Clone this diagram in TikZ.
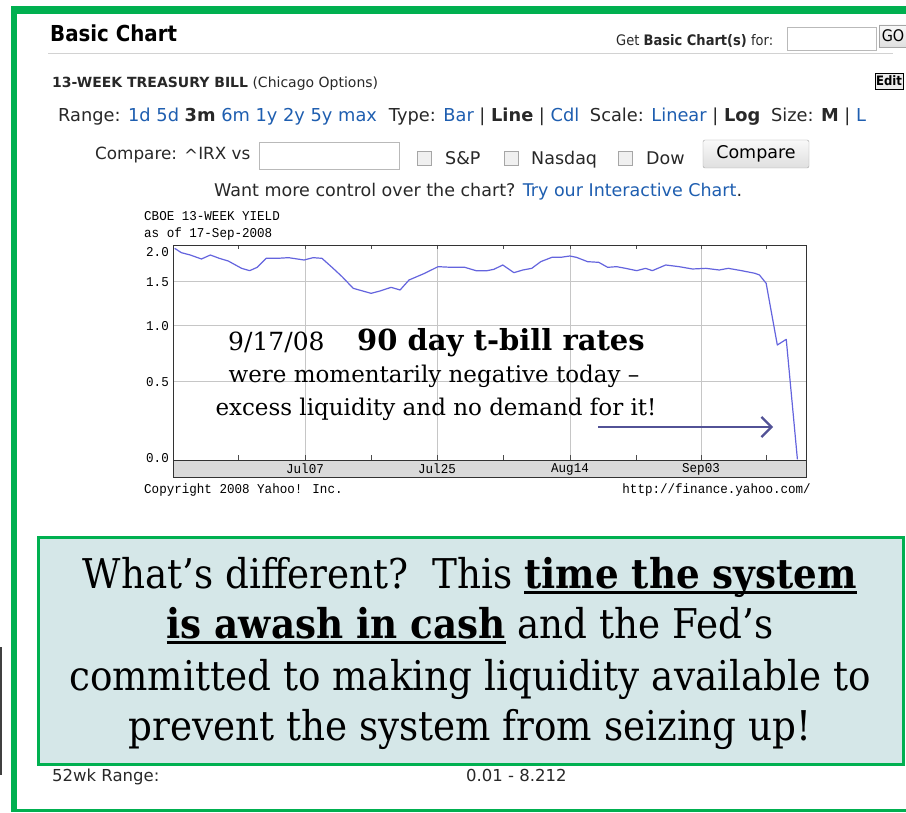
\documentclass[tikz,border=0pt]{standalone}
\usepackage{fontspec}
\setmainfont{DejaVu Serif}
\newfontfamily\uifnt[FakeStretch=0.9]{DejaVu Sans}
\newfontfamily\uifntw{DejaVu Sans}
\newfontfamily\monofnt[FakeStretch=0.93]{Liberation Mono}
\newfontfamily\annfnt{DejaVu Serif}
\newfontfamily\boxfnt[FakeStretch=0.91]{DejaVu Serif}
\usetikzlibrary{arrows.meta}
\definecolor{frgreen}{RGB}{0,176,80}
\definecolor{boxfill}{RGB}{213,231,232}
\definecolor{linkblue}{RGB}{30,94,176}
\definecolor{dataline}{RGB}{100,100,222}
\definecolor{arrowcol}{RGB}{82,82,150}
\definecolor{uitext}{RGB}{40,40,40}
\definecolor{bandgray}{RGB}{218,218,218}
\newcommand\lk[1]{\textcolor{linkblue}{#1}}
\newcommand\thickul[1]{\setbox0=\hbox{#1}\rlap{\rule[-6pt]{\wd0}{3pt}}\box0}
\tikzset{
  uitxt/.style={anchor=base west, inner sep=0pt, text=uitext},
  ui/.style={font=\uifntw\fontsize{17.5}{20}\selectfont},
  monotxt/.style={inner sep=0pt, text=black, font=\monofnt\fontsize{13.5}{15}\selectfont},
  inputbox/.style={draw=gray!55, fill=white, inner sep=0pt},
  btnbox/.style={draw=gray!70, rounded corners=2pt, top color=gray!5, bottom color=gray!25, inner sep=0pt, text=black},
  chk/.style={draw=gray!70, fill=gray!12, minimum width=14pt, minimum height=14pt, inner sep=0pt},
  grid/.style={draw=gray!45, line width=0.8pt},
  annot/.style={anchor=base, inner sep=0pt, text=black},
  boxline/.style={anchor=base, inner sep=0pt, text=black, font=\boxfnt\fontsize{41}{46}\selectfont},
}
\begin{document}
\begin{tikzpicture}[x=1pt,y=-1pt]
\useasboundingbox (0,0) rectangle (906,813);
\fill[white] (0,0) rectangle (906,813);
% outer frame
\draw[frgreen, line width=8pt] (906,10) -- (11,10);
\draw[frgreen, line width=6pt] (14,6) -- (14,812);
\draw[frgreen, line width=3pt] (14,810.5) -- (906,810.5);
\draw[black!75, line width=1.5pt] (1,647) -- (1,775);
% header
\node[uitxt, font=\uifnt\bfseries\fontsize{22}{24}\selectfont, text=black] (title) at (50,42) {Basic Chart};
\draw[gray!35] (48,53) -- (893,53);
\node[uitxt, font=\uifnt\fontsize{14.5}{16}\selectfont] (getlbl) at (616,46) {Get \textbf{Basic Chart(s)} for:};
\node[inputbox, minimum width=89pt, minimum height=23pt] (getbox) at (831.5,38.5) {};
\node[btnbox, rounded corners=0pt, minimum width=28pt, minimum height=22pt, font=\uifnt\fontsize{16}{18}\selectfont] (go) at (893,36) {GO};
\node[uitxt, font=\uifntw\fontsize{14}{16}\selectfont] (sym) at (52,88) {\textbf{13-WEEK TREASURY BILL} (Chicago Options)};
\node[draw=black, fill=gray!15, minimum width=28pt, minimum height=16pt, inner sep=0pt, font=\uifnt\bfseries\fontsize{13}{14}\selectfont] (edit) at (889,81) {Edit};
\node[uitxt, font=\uifntw\fontsize{17.8}{20}\selectfont] (range) at (58,122) {Range: \lk{1d} \lk{5d} \textbf{3m} \lk{6m} \lk{1y} \lk{2y} \lk{5y} \lk{max}\hspace{12pt}Type: \lk{Bar} | \textbf{Line} | \lk{Cdl}\hspace{5pt} Scale: \lk{Linear} | \textbf{Log}\hspace{5pt} Size: \textbf{M} | \lk{L}};
% compare row
\node[uitxt, font=\uifntw\fontsize{16.8}{20}\selectfont] (cmplbl) at (95,160) {Compare: \raisebox{-2pt}{\^{}}IRX vs};
\node[inputbox, minimum width=140pt, minimum height=27pt] (cmpbox) at (329,156) {};
\node[chk] (c1) at (424.5,158.5) {};
\node[uitxt, ui] (sp) at (445,165) {S\&P};
\node[chk] (c2) at (511,158.5) {};
\node[uitxt, ui] (nas) at (531,165) {Nasdaq};
\node[chk] (c3) at (625,158.5) {};
\node[uitxt, ui] (dow) at (646,165) {Dow};
\node[btnbox, minimum width=106pt, minimum height=28pt, font=\uifntw\fontsize{17.5}{20}\selectfont] (cmpbtn) at (756,154) {Compare};
\node[uitxt, ui] (want) at (214,197) {Want more control over the chart? \lk{Try our Interactive Chart}.};
% chart titles
\node[monotxt, anchor=base west] (ct1) at (144,221) {CBOE 13-WEEK YIELD};
\node[monotxt, anchor=base west] (ct2) at (144,238) {as of 17-Sep-2008};
% chart plot
\fill[bandgray] (173,460) rectangle (806,477);
\foreach \yy in {281,325,381} \draw[grid] (173,\yy) -- (806,\yy);
\foreach \xx in {305,437,570,701} \draw[grid] (\xx,245) -- (\xx,460);
\foreach \xx in {238.5,305,371,437,503,570,636,701,766} {
  \draw[black!70] (\xx,245) -- (\xx,249);
  \draw[black!70] (\xx,455) -- (\xx,460);
}
\draw[black!80] (173,245) rectangle (806,477);
\draw[black!80] (173,460) -- (806,460);
\foreach \yy/\lab in {252/2.0,282/1.5,326/1.0,382/0.5,458/0.0}
  \node[monotxt, anchor=east] at (169,\yy) {\lab};
\foreach \xx/\lab in {305/Jul07,437/Jul25,570/Aug14,701/Sep03}
  \node[monotxt] at (\xx,469) {\lab};
\begin{scope}[shift={(130,230)}, x=0.44643pt, y=-0.33333pt]
\draw[dataline, line width=1.2pt, line join=round]
 (100,55) -- (115,68) -- (135,75) -- (160,87) -- (180,75) -- (200,85) -- (220,93) -- (250,115) -- (268,122) -- (285,112) -- (305,85) -- (330,85) -- (355,83) -- (390,90) -- (410,83) -- (430,85) -- (455,115) -- (475,140) -- (500,175) -- (540,190) -- (560,183) -- (585,172) -- (605,180) -- (625,150) -- (660,130) -- (690,110) -- (720,112) -- (750,112) -- (775,122) -- (800,122) -- (815,118) -- (835,105) -- (860,128) -- (880,120) -- (900,115) -- (920,95) -- (945,82) -- (965,82) -- (985,78) -- (1000,82) -- (1025,95) -- (1050,97) -- (1070,112) -- (1090,110) -- (1110,115) -- (1135,122) -- (1155,115) -- (1170,122) -- (1200,105) -- (1230,110) -- (1260,117) -- (1290,115) -- (1320,120) -- (1340,115) -- (1370,122) -- (1400,130) -- (1410,135) -- (1425,160) -- (1450,345) -- (1470,328) -- (1495,688);
\end{scope}
\node[monotxt, anchor=base west] (copy) at (144,493) {Copyright 2008 Yahoo! Inc.};
\node[monotxt, anchor=base east] (url) at (811,493) {http://finance.yahoo.com/};
% annotation
\node[annot, anchor=base west, font=\annfnt\fontsize{25}{30}\selectfont] (date) at (228,351) {9/17/08};
\node[annot, anchor=base west, font=\annfnt\bfseries\fontsize{29}{32}\selectfont] (head) at (357,351) {90 day t-bill rates};
\node[annot, font=\annfnt\fontsize{23}{26}\selectfont] (l2) at (434,383) {were momentarily negative today –};
\node[annot, font=\annfnt\fontsize{23}{26}\selectfont] (l3) at (436,415) {excess liquidity and no demand for it!};
\coordinate (a1) at (598,427);
\coordinate (a2) at (773,427);
\draw[arrowcol, line width=2.8pt, -{Straight Barb[length=10pt,width=20pt,line width=2.2pt]}] (a1) -- (a2);
% big box
\node[draw=frgreen, line width=3pt, fill=boxfill, minimum width=865pt, minimum height=227pt, inner sep=0pt] (msg) at (470.5,650.5) {};
\node[boxline] (m1) at (470,588) {What’s different?\ \ This \textbf{\thickul{time the system}}};
\node[boxline] (m2) at (470,638) {\textbf{\thickul{is awash in cash}} and the Fed’s};
\node[boxline] (m3) at (470,690) {committed to making liquidity available to};
\node[boxline] (m4) at (470,740) {prevent the system from seizing up!};
% bottom row
\node[uitxt, font=\uifntw\fontsize{16.5}{18}\selectfont] (wk) at (52,781) {52wk Range:};
\node[uitxt, font=\uifntw\fontsize{16.5}{18}\selectfont] (wkv) at (466,781) {0.01 - 8.212};
\end{tikzpicture}
\end{document}
